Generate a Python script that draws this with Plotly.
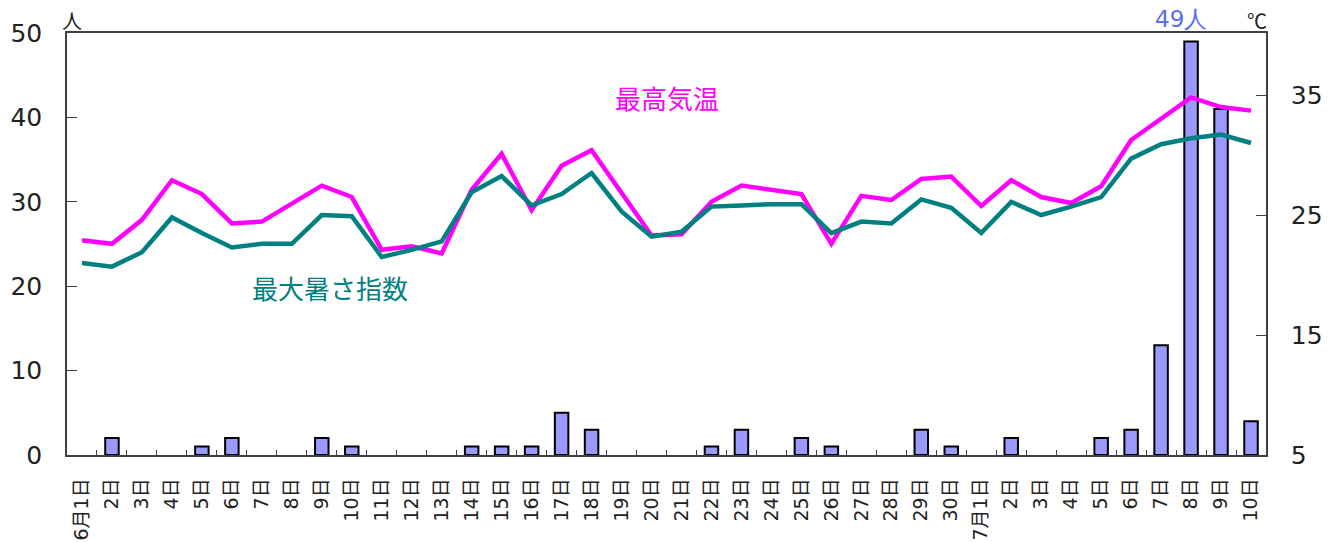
import plotly.graph_objects as go

# ---- data ----
day_labels = (["6月1日"] + [f"{d}日" for d in range(2, 31)] +
              ["7月1日"] + [f"{d}日" for d in range(2, 11)])

patients = [0, 2, 0, 0, 1, 2, 0, 0, 2, 1,
            0, 0, 0, 1, 1, 1, 5, 3, 0, 0,
            0, 1, 3, 0, 2, 1, 0, 0, 3, 1,
            0, 2, 0, 0, 2, 3, 13, 49, 41, 4]

max_temp = [22.9, 22.6, 24.6, 27.9, 26.75, 24.3, 24.45, 26.0, 27.45, 26.5,
            22.1, 22.4, 21.8, 27.1, 30.1, 25.4, 29.1, 30.4, 26.9, 23.3,
            23.4, 26.1, 27.45, 27.1, 26.75, 22.6, 26.6, 26.25, 28.0, 28.2,
            25.75, 27.9, 26.5, 26.0, 27.4, 31.25, 33.0, 34.8, 34.0, 33.7]

max_wbgt = [21.0, 20.7, 21.9, 24.8, 23.5, 22.3, 22.6, 22.6, 25.0, 24.9,
            21.5, 22.1, 22.8, 26.9, 28.25, 25.8, 26.75, 28.5, 25.3, 23.2,
            23.6, 25.7, 25.8, 25.9, 25.9, 23.5, 24.45, 24.3, 26.3, 25.6,
            23.5, 26.1, 25.0, 25.7, 26.5, 29.7, 30.9, 31.4, 31.7, 31.0]

left_ticks = [0, 10, 20, 30, 40, 50]
right_ticks = [5, 15, 25, 35]

idx = list(range(len(day_labels)))
bar_y = [v if v > 0 else None for v in patients]

NUM = "DejaVu Sans, Liberation Sans, sans-serif"
JP = "Noto Sans CJK JP, sans-serif"
XL = "DejaVu Sans, Noto Sans CJK JP, sans-serif"
AXC = "#404040"
PINK = "#ff00ff"
TEAL = "#008080"

fig = go.Figure()
fig.add_trace(go.Bar(x=idx, y=bar_y, width=0.45,
                     marker=dict(color="#9999ff", line=dict(color="black", width=2)),
                     yaxis="y", showlegend=False))
fig.add_trace(go.Scatter(x=idx, y=max_temp, mode="lines", yaxis="y2",
                         line=dict(color=PINK, width=4.5), showlegend=False))
fig.add_trace(go.Scatter(x=idx, y=max_wbgt, mode="lines", yaxis="y2",
                         line=dict(color=TEAL, width=4.5), showlegend=False))

peak = max(patients)
peak_i = patients.index(peak)

fig.update_layout(
    width=1341, height=542,
    margin=dict(l=67, r=75, t=33, b=87),
    paper_bgcolor="white", plot_bgcolor="white",
    font=dict(family=NUM, color="#222222"),
    xaxis=dict(range=[-0.5, len(idx) - 0.5], tickmode="array", tickvals=idx,
               ticktext=day_labels, tickangle=-90, ticks="inside", ticklen=0,
               tickfont=dict(size=19, family=XL),
               showline=True, linecolor=AXC, linewidth=1.5, mirror=True,
               showgrid=False, zeroline=False, ticklabelstandoff=14,
               automargin=False,
               minor=dict(tick0=0.5, dtick=1, ticks="inside", ticklen=5,
                          tickcolor=AXC, tickwidth=1.2, showgrid=False)),
    yaxis=dict(range=[0, 50], tickvals=left_ticks, ticks="inside", ticklen=10,
               tickcolor=AXC, tickwidth=1.2, tickfont=dict(size=25, family=NUM),
               showline=True, linecolor=AXC, linewidth=1.5, showgrid=False,
               zeroline=False, ticklabelstandoff=18, automargin=False),
    yaxis2=dict(range=[5, 40.17], tickvals=right_ticks, ticks="inside",
                ticklen=10, tickcolor=AXC, tickwidth=1.2,
                tickfont=dict(size=25, family=NUM),
                overlaying="y", side="right", showline=True, linecolor=AXC,
                linewidth=1.5, showgrid=False, zeroline=False,
                ticklabelstandoff=18, automargin=False),
    annotations=[
        dict(text="人", xref="paper", yref="paper", x=-0.006, y=1.0,
             xanchor="left", yanchor="top", yshift=29, showarrow=False,
             font=dict(size=20, family=JP, color="#222222")),
        dict(text="℃", xref="paper", yref="paper", x=0.9925, y=1.0,
             xanchor="center", yanchor="top", yshift=29, showarrow=False,
             font=dict(size=20, family=JP, color="#222222")),
        dict(text=f"{peak}人", x=peak_i - 0.35, y=peak, xref="x", yref="y",
             yanchor="bottom", yshift=7, showarrow=False,
             font=dict(size=23, family=NUM, color="#5b6cf5")),
        dict(text="最高気温", x=19.5, y=34.8, xref="x", yref="y2",
             showarrow=False, font=dict(size=26, family=JP, color=PINK)),
        dict(text="最大暑さ指数", x=8.27, y=19.0, xref="x", yref="y2",
             showarrow=False, font=dict(size=26, family=JP, color=TEAL)),
    ],
)

fig.write_html("out.html", config={"displayModeBar": False},
               post_script="document.body.style.margin='0';"
                           "document.body.style.overflow='hidden';")
